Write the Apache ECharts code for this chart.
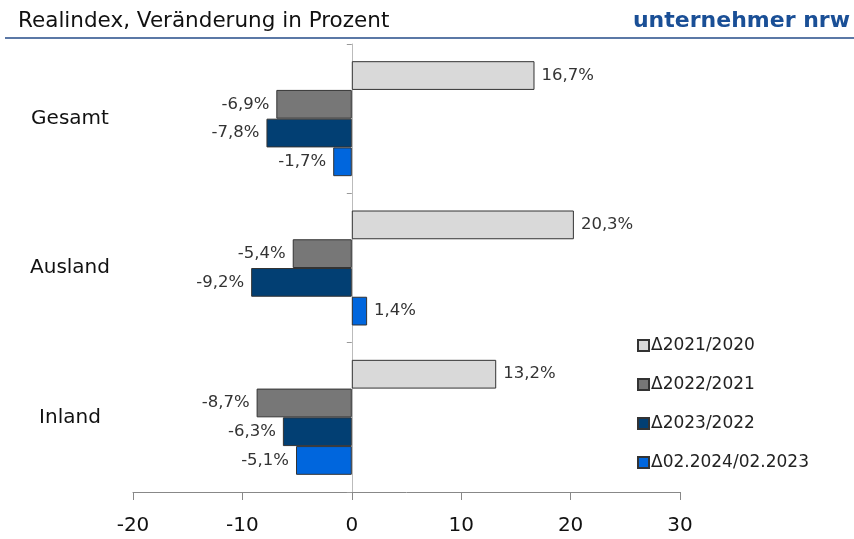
<!DOCTYPE html>
<html>
<head>
<meta charset="utf-8">
<script src="https://cdn.jsdelivr.net/npm/echarts@6/dist/echarts.min.js"></script>
<style>
  html, body { margin: 0; padding: 0; background: #fff; }
  #chart { width: 854px; height: 539px; }
</style>
</head>
<body>
<div id="chart"></div>
<script>
// Kategorien und Werte (Realindex, Veränderung in Prozent)
const categories = ['Gesamt', 'Ausland', 'Inland']
const seriesNames = ['Δ2021/2020', 'Δ2022/2021', 'Δ2023/2022', 'Δ02.2024/02.2023']
const v2021 = [16.7, 20.3, 13.2]
const v2022 = [-6.9, -5.4, -8.7]
const v2023 = [-7.8, -9.2, -6.3]
const v2024 = [-1.7, 1.4, -5.1]
const xTicks = [-20, -10, 0, 10, 20, 30]

const colors = ['#d9d9d9', '#777777', '#023f73', '#0066dd']
const allValues = [v2021, v2022, v2023, v2024]

const labelFont = { fontFamily: 'DejaVu Sans', fontSize: 16.5, color: '#333' }

function makeSeries (name, values, color) {
  return {
    name: name,
    type: 'bar',
    yAxisIndex: 0,
    barGap: '0%',
    barCategoryGap: '23%',
    itemStyle: { color: color, borderColor: '#333', borderWidth: 1 },
    data: values.map(v => ({
      value: v,
      label: {
        show: true,
        position: v < 0 ? 'left' : 'right',
        distance: 7,
        formatter: p => String(p.value).replace('.', ',') + '%',
        ...labelFont
      }
    }))
  }
}

let myChart = echarts.init(document.getElementById('chart'))
myChart.setOption({
  backgroundColor: '#fff',
  animation: false,
  graphic: [
    {
      type: 'text', left: 18, top: 10,
      style: { text: 'Realindex, Veränderung in Prozent', font: '21.5px "DejaVu Sans"', fill: '#111' }
    },
    {
      type: 'text', right: 4, top: 10,
      style: { text: 'unternehmer nrw', font: 'bold 22px "DejaVu Sans"', fill: '#1a4f96' }
    },
    {
      type: 'line', shape: { x1: 5, y1: 38, x2: 854, y2: 38 },
      style: { stroke: '#5b78a6', lineWidth: 2 }
    }
  ],
  legend: {
    orient: 'vertical',
    left: 632,
    top: 332,
    itemWidth: 11,
    itemHeight: 11,
    itemGap: 22,
    icon: 'rect',
    textStyle: { fontFamily: 'DejaVu Sans', fontSize: 17, color: '#222', padding: [0, 0, 0, -3] },
    data: seriesNames
  },
  grid: { left: 133, right: 174, top: 44, bottom: 47 },
  xAxis: {
    type: 'value',
    min: -20,
    max: 30,
    interval: 10,
    axisLine: { show: true, onZero: false, lineStyle: { color: '#888' } },
    axisTick: { show: true, length: 8, lineStyle: { color: '#888' } },
    splitLine: { show: false },
    axisLabel: {
      margin: 24,
      fontFamily: 'DejaVu Sans',
      fontSize: 20,
      color: '#111',
      formatter: v => xTicks.includes(v) ? String(v) : ''
    }
  },
  yAxis: [
    {
      type: 'category',
      data: categories,
      inverse: true,
      axisLine: { show: true, onZero: true, lineStyle: { color: '#bbb' } },
      axisTick: { show: true, length: 5, lineStyle: { color: '#999' } },
      axisLabel: { show: false }
    },
    {
      type: 'category',
      data: categories,
      inverse: true,
      position: 'left',
      axisLine: { show: false, onZero: false },
      axisTick: { show: false },
      axisLabel: {
        margin: 63,
        align: 'center',
        fontFamily: 'DejaVu Sans',
        fontSize: 20,
        color: '#111'
      }
    }
  ],
  series: seriesNames.map((n, i) => makeSeries(n, allValues[i], colors[i]))
})
</script>
</body>
</html>
